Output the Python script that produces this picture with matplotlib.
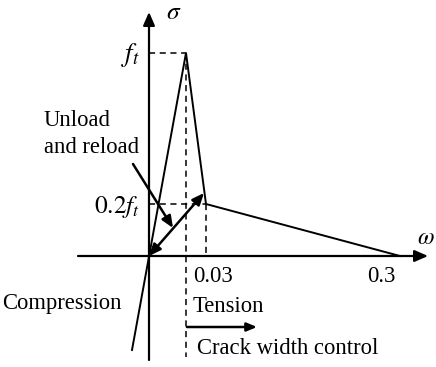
import matplotlib
matplotlib.use('Agg')
import matplotlib.pyplot as plt

plt.rcParams['font.family'] = 'Liberation Serif'
plt.rcParams['mathtext.fontset'] = 'stix'

# schematic softening law (crack width w vs stress sigma), drawing units
w_curve = [-17, 37, 57, 251]
s_curve = [-94, 203, 52, 0]

w_peak, s_peak = 37, 203      # f_t
w_res, s_res = 57, 52         # 0.2 f_t at w = 0.03
w_end = 251                   # w = 0.3
reload_tip = (55, 63)
unload_from = (-16, 92)
unload_to = (24, 28)

tick_labels = ['0.03', '0.3']
tick_left = [44, 218]

fig = plt.figure(figsize=(4.36, 3.67), dpi=100)
ax = fig.add_axes([0, 0, 1, 1])
ax.set_xlim(-149, 287)
ax.set_ylim(-111, 256)
ax.axis('off')

fs = 16.3
k = dict(color='black', lw=1.4)
head = dict(arrowstyle='-|>,head_length=0.8,head_width=0.35', color='black',
            lw=1.6, shrinkA=0, shrinkB=0)

# axes
ax.annotate('', xy=(279, 0), xytext=(-71, 0), arrowprops=head)
ax.annotate('', xy=(0, 244), xytext=(0, -104), arrowprops=head)
ax.text(17, 243, r'$\sigma$', fontsize=fs + 2, va='center', ha='left')
ax.text(268, 17, r'$\omega$', fontsize=fs + 1, va='center', ha='left')

# curve
ax.plot(w_curve, s_curve, **k)

# guide lines
dash = dict(color='black', lw=1.1, ls=(0, (4, 3)))
ax.plot([0, w_peak], [s_peak, s_peak], **dash)
ax.plot([w_peak, w_peak], [s_peak, -101], **dash)
ax.plot([0, w_res], [s_res, s_res], **dash)
ax.plot([w_res, w_res], [s_res, 0], **dash)

ax.text(-9, 201, r'$f_t$', fontsize=fs + 3, ha='right', va='center')
ax.text(-9, 49, r'$0.2f_t$', fontsize=fs + 2, ha='right', va='center')

# unload / reload path
ax.annotate('', xy=reload_tip, xytext=(0, 0),
            arrowprops=dict(arrowstyle='<|-|>,head_length=0.7,head_width=0.3',
                            color='black', lw=1.8, shrinkA=0, shrinkB=0))
ax.annotate('', xy=unload_to, xytext=unload_from,
            arrowprops=dict(arrowstyle='-|>,head_length=0.7,head_width=0.3',
                            color='black', lw=1.8, shrinkA=0, shrinkB=0))
ax.text(-105, 122, 'Unload\nand reload', fontsize=fs, ha='left', va='center',
        linespacing=1.4)

# tick labels on the w axis
for lab, x in zip(tick_labels, tick_left):
    ax.text(x, -21, lab, fontsize=fs, ha='left', va='center')

ax.text(-147, -47, 'Compression', fontsize=fs, ha='left', va='center')
ax.text(44, -51, 'Tension', fontsize=fs, ha='left', va='center')
ax.annotate('', xy=(108, -71), xytext=(38, -71),
            arrowprops=dict(arrowstyle='-|>,head_length=0.6,head_width=0.25',
                            color='black', lw=1.8, shrinkA=0, shrinkB=0))
ax.text(48, -92, 'Crack width control', fontsize=fs, ha='left', va='center')

fig.savefig('out.png', dpi=100)
